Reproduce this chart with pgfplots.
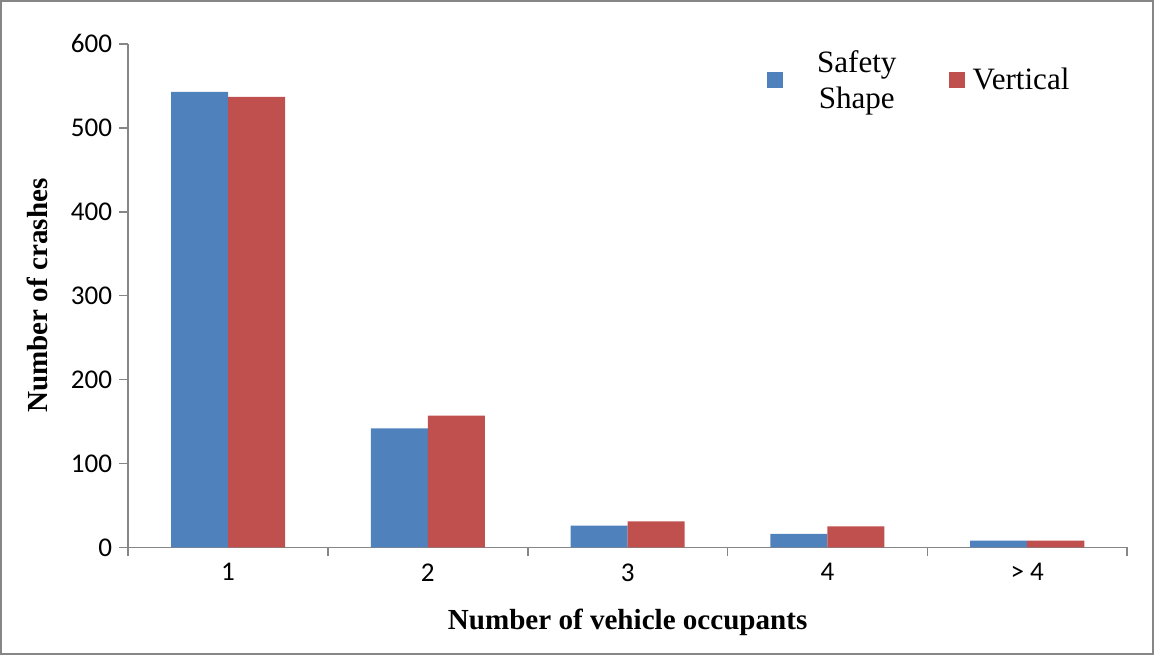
\documentclass[border=0pt]{standalone}
\usepackage{pgfplots}
\pgfplotsset{compat=1.18}
\usepackage{fontspec}
\setmainfont{Liberation Serif}
\newfontfamily\carlito{Carlito}
\definecolor{sblue}{HTML}{4F81BD}
\definecolor{sred}{HTML}{C0504D}
\definecolor{axgray}{HTML}{868686}
\begin{document}
\begin{tikzpicture}
\begin{axis}[
  scale only axis, width=498pt, height=251pt,
  clip=false,
  xmin=-0.5, xmax=4.5, ymin=0, ymax=600,
  ytick={0,100,...,600},
  xtick={0,1,2,3,4}, xticklabels={1,2,3,4,{> 4}},
  major x tick style={draw=none},
  minor xtick={-0.5,0.5,...,4.5},
  axis x line=bottom, axis y line=left,
  axis line style={-, draw=axgray, line width=0.8pt},
  every tick/.style={draw=axgray, line width=0.8pt},
  tick align=outside, major tick length=4.5pt, minor tick length=4.5pt,
  ticklabel style={font=\carlito\fontsize{13.5}{15}\selectfont},
  /pgf/number format/assume math mode=true,
  xlabel={Number of vehicle occupants},
  ylabel={Number of crashes},
  label style={font=\fontsize{14.5}{16}\selectfont\bfseries},
  xlabel style={at={(axis description cs:0.5,-0.1494)}, anchor=center},
  ylabel style={at={(axis description cs:-0.0912,0.5)}, anchor=center},
  legend columns=2,
  legend image code/.code={\fill[#1] (0pt,-4pt) rectangle (8pt,4pt);},
  legend style={draw=none, fill=none, at={(axis description cs:0.633,0.928)}, anchor=west,
    font=\fontsize{15.5}{17.5}\selectfont, cells={anchor=west}},
]
\addplot[ybar, bar width=0.2856, bar shift=-0.1428, fill=sblue, draw=none]
  coordinates {(0,543) (1,142) (2,26) (3,16) (4,8)};
\addlegendentry{\hspace*{15pt}\raisebox{9pt}{\begin{tabular}{@{}c@{}}Safety\\[0.5pt]Shape\end{tabular}}\hspace*{24pt}}
\addplot[ybar, bar width=0.2856, bar shift=0.1428, fill=sred, draw=none]
  coordinates {(0,537) (1,157) (2,31) (3,25) (4,8)};
\addlegendentry{\hspace*{2pt}Vertical}
\draw[axgray, line width=0.8pt] (rel axis cs:0,0) ++(-63.5pt,-53pt) rectangle ++(574.5pt,325.5pt);
\end{axis}
\end{tikzpicture}
\end{document}
